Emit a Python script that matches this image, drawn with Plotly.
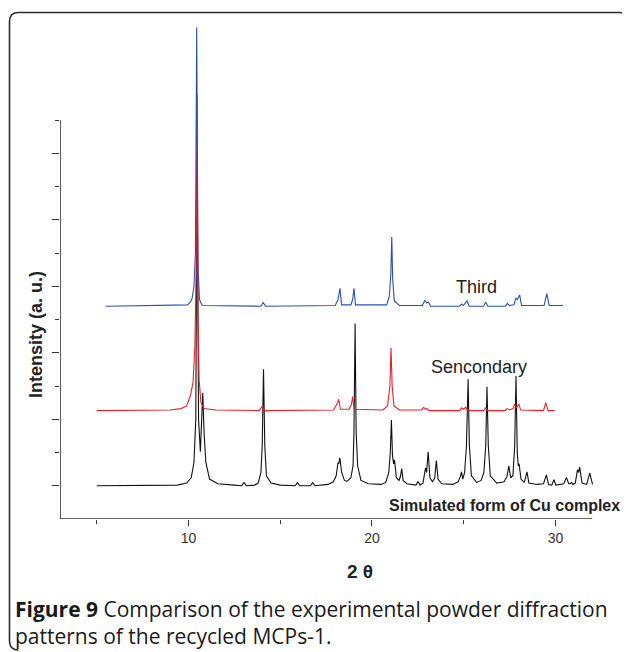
import plotly.graph_objects as go

# ---- data (2theta in degrees, intensity in a.u. incl. vertical offset) ----
sim_x = [5.0, 9.4, 9.9, 10.15, 10.3, 10.4, 10.47, 10.55, 10.65, 10.72, 10.78, 10.85, 10.95, 11.15, 11.6,
         12.5, 12.9, 13.03, 13.15, 13.6, 13.8, 13.95, 14.02, 14.09, 14.16, 14.25, 14.5, 15.0, 15.82, 15.94,
         16.06, 16.65, 16.77, 16.9, 17.6, 17.9, 18.05, 18.15, 18.19, 18.25, 18.35, 18.5, 18.64, 18.85, 18.97,
         19.02, 19.08, 19.14, 19.22, 19.4, 19.8, 20.5, 20.75, 20.92, 21.0, 21.06, 21.12, 21.18, 21.23, 21.33,
         21.48, 21.56, 21.62, 21.7, 21.9, 22.4, 22.51, 22.62, 22.78, 22.92, 22.98, 23.06, 23.16, 23.3, 23.42,
         23.51, 23.6, 23.8, 24.4, 24.7, 24.82, 24.88, 24.95, 25.05, 25.15, 25.24, 25.31, 25.42, 25.7, 25.95,
         26.1, 26.2, 26.27, 26.34, 26.45, 26.8, 27.2, 27.36, 27.46, 27.56, 27.68, 27.78, 27.85, 27.92, 27.97,
         28.02, 28.12, 28.3, 28.45, 28.55, 29.0, 29.35, 29.51, 29.62, 29.8, 29.92, 30.02, 30.45, 30.6, 30.72,
         30.8, 30.87, 30.95, 31.08, 31.2, 31.26, 31.32, 31.45, 31.7, 31.87, 31.98, 32.02]
sim_y = [1.0, 1.01, 1.04, 1.12, 1.35, 2.0, 6.0, 2.0, 1.51, 1.9, 2.40, 1.8, 1.35, 1.1, 1.03,
         1.01, 1.0, 1.05, 1.0, 1.01, 1.04, 1.2, 1.6, 2.75, 1.6, 1.15, 1.04, 1.01, 1.0, 1.05,
         1.0, 1.0, 1.045, 1.0, 1.02, 1.06, 1.15, 1.35, 1.33, 1.42, 1.2, 1.08, 1.065, 1.12, 1.3,
         1.8, 3.44, 1.8, 1.3, 1.08, 1.03, 1.02, 1.05, 1.2, 1.5, 1.99, 1.45, 1.33, 1.39, 1.12,
         1.08, 1.15, 1.26, 1.08, 1.03, 1.01, 1.065, 1.01, 1.04, 1.27, 1.2, 1.51, 1.12, 1.06, 1.12,
         1.38, 1.1, 1.03, 1.02, 1.06, 1.14, 1.21, 1.1, 1.2, 1.6, 2.6, 1.6, 1.15, 1.05, 1.08,
         1.2, 1.6, 2.49, 1.6, 1.15, 1.04, 1.06, 1.14, 1.3, 1.12, 1.15, 1.6, 2.65, 1.5, 1.3,
         1.33, 1.1, 1.05, 1.21, 1.04, 1.02, 1.03, 1.165, 1.02, 1.01, 1.09, 1.01, 1.03, 1.125, 1.03,
         1.03, 1.05, 1.02, 1.04, 1.24, 1.2, 1.28, 1.04, 1.02, 1.19, 1.02, 1.02]

sec_x = [5.0, 9.0, 9.6, 9.9, 10.1, 10.25, 10.35, 10.42, 10.47, 10.52, 10.58, 10.68, 10.85, 11.5,
         13.85, 14.01, 14.15, 17.9, 18.08, 18.19, 18.28, 18.75, 18.88, 18.95, 19.03, 20.6, 20.85,
         20.98, 21.04, 21.1, 21.2, 21.5, 22.7, 22.82, 22.92, 23.0, 23.12, 24.78, 24.88, 24.98, 25.11,
         25.22, 26.08, 26.2, 26.32, 27.25, 27.36, 27.5, 27.68, 27.78, 27.88, 28.0, 28.1, 29.35, 29.47,
         29.6, 29.96]
sec_y = [2.13, 2.14, 2.16, 2.2, 2.35, 2.55, 3.1, 4.2, 6.88, 3.6, 2.6, 2.25, 2.16, 2.14,
         2.13, 2.19, 2.13, 2.14, 2.22, 2.30, 2.15, 2.15, 2.22, 2.34, 2.15, 2.14, 2.2,
         2.5, 3.075, 2.5, 2.2, 2.14, 2.14, 2.18, 2.15, 2.16, 2.13, 2.13, 2.17, 2.15, 2.18,
         2.13, 2.13, 2.17, 2.13, 2.13, 2.16, 2.14, 2.16, 2.23, 2.17, 2.23, 2.14, 2.13, 2.25,
         2.13, 2.13]

thi_x = [5.48, 9.5, 9.95, 10.1, 10.2, 10.3, 10.38, 10.45, 10.52, 10.6, 10.75, 13.95, 14.07, 14.2,
         18.0, 18.15, 18.26, 18.34, 18.85, 18.95, 19.02, 19.1, 20.8, 20.95, 21.03, 21.08, 21.13, 21.22,
         21.5, 22.75, 22.88, 22.98, 23.08, 23.2, 24.78, 24.88, 24.98, 25.18, 25.3, 26.08, 26.2, 26.32,
         27.26, 27.38, 27.5, 27.74, 27.84, 27.92, 28.05, 28.15, 29.38, 29.53, 29.66, 30.41]
thi_y = [3.70, 3.71, 3.72, 3.76, 3.82, 4.0, 4.5, 7.89, 4.3, 3.8, 3.71, 3.70, 3.755, 3.70,
         3.71, 3.8, 3.97, 3.72, 3.72, 3.8, 3.97, 3.72, 3.72, 3.85, 4.2, 4.74, 4.1, 3.78,
         3.71, 3.71, 3.79, 3.75, 3.76, 3.70, 3.70, 3.73, 3.71, 3.78, 3.70, 3.70, 3.76, 3.70,
         3.70, 3.74, 3.71, 3.72, 3.82, 3.8, 3.87, 3.71, 3.71, 3.89, 3.71, 3.71]

x_ticks = [10, 20, 30]
x_minor = [5, 15, 25]
y_ticks = [1, 2, 3, 4, 5, 6]
y_minor = [1.5, 2.5, 3.5, 4.5, 5.5, 6.5]

# ---- layout geometry (page has an 8px body margin; compensate) ----
OFF = 8
W, H = 630 - OFF, 652 - OFF
PLOT_L, PLOT_R, PLOT_T, PLOT_B = 60, 610, 20, 519   # in page pixels
ML, MR, MT, MB = PLOT_L - OFF, W - (PLOT_R - OFF), PLOT_T - OFF, H - (PLOT_B - OFF)
PW, PH = W - ML - MR, H - MT - MB
XR = [3.0, 3.0 + PW / 18.35]
YR = [0.5, 0.5 + PH / 66.5]


def px(x):
    return (x - PLOT_L) / PW


def py(y):
    return (PLOT_B - y) / PH


fig = go.Figure()
fig.add_trace(go.Scatter(x=sim_x, y=sim_y, mode="lines", line=dict(color="#111111", width=1.1), hoverinfo="skip"))
fig.add_trace(go.Scatter(x=sec_x, y=sec_y, mode="lines", line=dict(color="#e8202a", width=1.1), hoverinfo="skip"))
fig.add_trace(go.Scatter(x=thi_x, y=thi_y, mode="lines", line=dict(color="#2f4fb0", width=1.1), hoverinfo="skip"))

axis_col = "#333333"
fig.update_layout(
    width=W, height=H, margin=dict(l=ML, r=MR, t=MT, b=MB),
    plot_bgcolor="white", paper_bgcolor="white", showlegend=False,
    xaxis=dict(range=XR, showgrid=False, zeroline=False, showline=False,
               tickmode="array", tickvals=x_ticks, ticktext=[str(v) for v in x_ticks],
               ticks="outside", ticklen=6, tickwidth=1.3, tickcolor=axis_col,
               tickfont=dict(family="Liberation Sans, Arial", size=14, color="#333333"),
               minor=dict(tickmode="array", tickvals=x_minor, ticks="outside", ticklen=4,
                          tickwidth=1.3, tickcolor=axis_col)),
    yaxis=dict(range=YR, showgrid=False, zeroline=False, showline=False, showticklabels=False,
               tickmode="array", tickvals=y_ticks,
               ticks="outside", ticklen=7, tickwidth=1.3, tickcolor=axis_col,
               minor=dict(tickmode="array", tickvals=y_minor, ticks="outside", ticklen=4,
                          tickwidth=1.3, tickcolor=axis_col)),
)

# axis lines (shorter than the plotting area, as in the original)
fig.add_shape(type="line", xref="x", yref="y", x0=XR[0], x1=32.0, y0=YR[0], y1=YR[0],
              line=dict(color=axis_col, width=1.6))
fig.add_shape(type="line", xref="x", yref="y", x0=XR[0], x1=XR[0], y0=YR[0], y1=6.5,
              line=dict(color=axis_col, width=1.6))

# rounded frame
L, T, R, B, r = 9.5, 12.5, 628.5, 650, 9
path = (f"M {px(L)},{py(T + r)} L {px(L)},{py(B - r)} Q {px(L)},{py(B)} {px(L + r)},{py(B)} "
        f"M {px(L)},{py(T + r)} Q {px(L)},{py(T)} {px(L + r)},{py(T)} L {px(R - r)},{py(T)} "
        f"Q {px(R)},{py(T)} {px(R)},{py(T + r)} L {px(R)},{py(B)}")
fig.add_shape(type="path", xref="paper", yref="paper", path=path, line=dict(color="#2a2a2a", width=1.6))

sans = "Liberation Sans, Arial"
fig.add_annotation(xref="paper", yref="paper", x=px(476), y=py(287), text="Third", showarrow=False,
                   font=dict(family=sans, size=18, color="#222222"), xanchor="center", yanchor="middle")
fig.add_annotation(xref="paper", yref="paper", x=px(479), y=py(367), text="Sencondary", showarrow=False,
                   font=dict(family=sans, size=18, color="#222222"), xanchor="center", yanchor="middle")
fig.add_annotation(xref="paper", yref="paper", x=px(387), y=py(505), text="<b>Simulated form of Cu complex</b>",
                   showarrow=False, font=dict(family=sans, size=16, color="#222222"),
                   xanchor="left", yanchor="middle")
fig.add_annotation(xref="paper", yref="paper", x=px(360), y=py(571), text="<b>2 θ</b>", showarrow=False,
                   font=dict(family=sans, size=19, color="#222222"), xanchor="center", yanchor="middle")
fig.add_annotation(xref="paper", yref="paper", x=px(36), y=py(335), text="<b>Intensity (a. u.)</b>",
                   showarrow=False, textangle=-90, font=dict(family=sans, size=18, color="#222222"),
                   xanchor="center", yanchor="middle")
cap = "Open Sans, Noto Sans"
fig.add_annotation(xref="paper", yref="paper", x=px(13), y=py(609),
                   text="<b>Figure 9</b> Comparison of the experimental powder diffraction",
                   showarrow=False, font=dict(family=cap, size=21, color="#1a1a1a"),
                   xanchor="left", yanchor="middle")
fig.add_annotation(xref="paper", yref="paper", x=px(13), y=py(636),
                   text="patterns of the recycled MCPs-1.",
                   showarrow=False, font=dict(family=cap, size=21, color="#1a1a1a"),
                   xanchor="left", yanchor="middle")

fig.write_html("out.html")
